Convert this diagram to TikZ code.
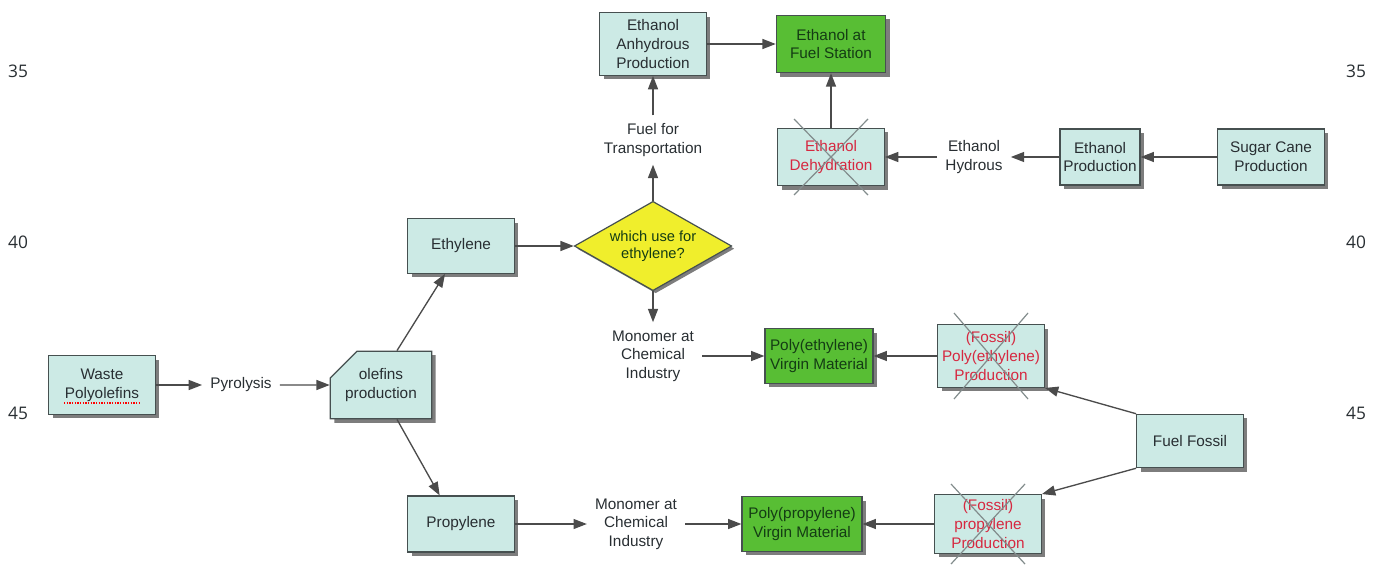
\documentclass[tikz,border=0pt]{standalone}
\usepackage{fontspec}
\setmainfont{Liberation Sans}
\newfontfamily\numfont{Open Sans}
\usetikzlibrary{arrows.meta,shapes.geometric,shapes.misc,shadows}

\definecolor{boxfill}{RGB}{204,234,229}
\definecolor{boxline}{RGB}{70,80,80}
\definecolor{virgin}{RGB}{88,190,52}
\definecolor{virgintext}{RGB}{20,60,20}
\definecolor{decision}{RGB}{240,238,44}
\definecolor{linegray}{RGB}{75,75,75}
\definecolor{crossred}{RGB}{214,40,64}
\definecolor{crossgray}{RGB}{130,140,140}
\definecolor{shadowgray}{RGB}{125,125,125}
\definecolor{textgray}{RGB}{40,46,50}

\tikzset{
  procbox/.style={draw=boxline, fill=boxfill, line width=0.9pt, align=center, text=textgray,
    font=\fontsize{11.5}{14}\selectfont, inner sep=2pt, minimum width=80pt, minimum height=42pt,
    drop shadow={shadow xshift=3pt, shadow yshift=-3pt, fill=shadowgray, opacity=1}},
  virginbox/.style={procbox, fill=virgin, text=virgintext},
  stoppedbox/.style={procbox, text=crossred},
  flowlabel/.style={align=center, text=textgray, font=\fontsize{11.5}{14}\selectfont, inner sep=6pt},
  flow/.style={draw=linegray, line width=1pt, -{Triangle[length=10pt,width=7.5pt]}},
  crossout/.style={draw=crossgray, line width=0.9pt},
  linenum/.style={text=textgray, font=\numfont\fontsize{13}{13}\selectfont}
}

\begin{document}
\begin{tikzpicture}[x=0.75pt,y=0.75pt,yscale=-1,xscale=1]
\useasboundingbox (0,0) rectangle (1381,571);

% line numbers
\foreach \v/\y in {35/71,40/242,45/413}{
  \node[linenum] (numl\v) at (18,\y) {\v};
  \node[linenum] (numr\v) at (1356,\y) {\v};
}

% left part
\node[procbox, minimum height=44pt] (wp) at (102,385) {Waste\\Polyolefins};
\draw[red, densely dotted, line width=1pt] ([shift={(-38,18)}]wp.center) -- ([shift={(38,18)}]wp.center);
\node[flowlabel] (pyro) at (241,385) {Pyrolysis};
\node[procbox, chamfered rectangle, chamfered rectangle corners=north west,
  chamfered rectangle xsep=9pt, chamfered rectangle ysep=11pt,
  minimum width=76pt, minimum height=36pt] (olef) at (381,385) {olefins\\production};
\node[procbox, minimum height=41pt] (eth) at (461,246) {Ethylene};
\node[procbox] (pro) at (461,524) {Propylene};

% ethylene branch
\node[draw=boxline, fill=decision, diamond, aspect=1.76, line width=0.9pt, align=center, text=virgintext,
  font=\fontsize{11}{13}\selectfont, inner sep=0pt, minimum width=118pt, minimum height=67pt,
  drop shadow={shadow xshift=2pt, shadow yshift=-2pt, fill=shadowgray, opacity=1}]
  (which) at (653,246) {which use for\\ethylene?};
\node[flowlabel] (fuelt) at (653,140) {Fuel for\\Transportation};
\node[procbox, minimum height=47pt] (anhyd) at (653,44) {Ethanol\\Anhydrous\\Production};
\node[virginbox, minimum width=82pt, minimum height=43pt] (station) at (831,44) {Ethanol at\\Fuel Station};
\node[stoppedbox, minimum height=43pt] (dehyd) at (831,157) {Ethanol\\Dehydration};
\node[flowlabel] (hydr) at (974,157) {Ethanol\\Hydrous};
\node[procbox, minimum width=60pt] (etprod) at (1100,157) {Ethanol\\Production};
\node[procbox] (sugar) at (1271,157) {Sugar Cane\\Production};

\node[flowlabel] (monoe) at (653,356) {Monomer at\\Chemical\\Industry};
\node[virginbox, minimum width=81pt, minimum height=41pt] (pev) at (819,356) {Poly(ethylene)\\Virgin Material};
\node[stoppedbox, minimum height=47pt] (fpe) at (991,356) {(Fossil)\\Poly(ethylene)\\Production};
\node[procbox, minimum height=40pt] (ff) at (1190,441) {Fuel Fossil};

% propylene branch
\node[flowlabel] (monop) at (636,524) {Monomer at\\Chemical\\Industry};
\node[virginbox, minimum width=90pt, minimum height=41pt] (ppv) at (802,524) {Poly(propylene)\\Virgin Material};
\node[stoppedbox, minimum height=44pt] (fpp) at (988,524) {(Fossil)\\propylene\\Production};

% crossed out steps
\foreach \n/\h in {dehyd/38,fpe/43,fpp/40}{
  \draw[crossout] ([shift={(-37,-\h)}]\n.center) -- ([shift={(37,\h)}]\n.center);
  \draw[crossout] ([shift={(37,-\h)}]\n.center) -- ([shift={(-37,\h)}]\n.center);
}

% connectors
\draw[flow] (wp) -- (pyro);
\draw[flow] (pyro) -- (olef);
\draw[flow] ([xshift=12pt]olef.north) -- ([xshift=-12pt]eth.south);
\draw[flow] ([xshift=12pt]olef.south) -- ([xshift=-16pt]pro.north);
\draw[flow] (eth) -- (which);
\draw[flow] (which) -- (fuelt);
\draw[flow] (fuelt) -- (anhyd);
\draw[flow] (which) -- (monoe);
\draw[flow] (anhyd) -- (station);
\draw[flow] (dehyd) -- (station);
\draw[flow] (hydr) -- (dehyd);
\draw[flow] (etprod) -- (hydr);
\draw[flow] (sugar) -- (etprod);
\draw[flow] (monoe) -- (pev);
\draw[flow] (fpe) -- (pev);
\draw[flow] (ff.north west) -- (fpe.south east);
\draw[flow] (ff.south west) -- (fpp.north east);
\draw[flow] (pro) -- (monop);
\draw[flow] (monop) -- (ppv);
\draw[flow] (fpp) -- (ppv);

\end{tikzpicture}
\end{document}
